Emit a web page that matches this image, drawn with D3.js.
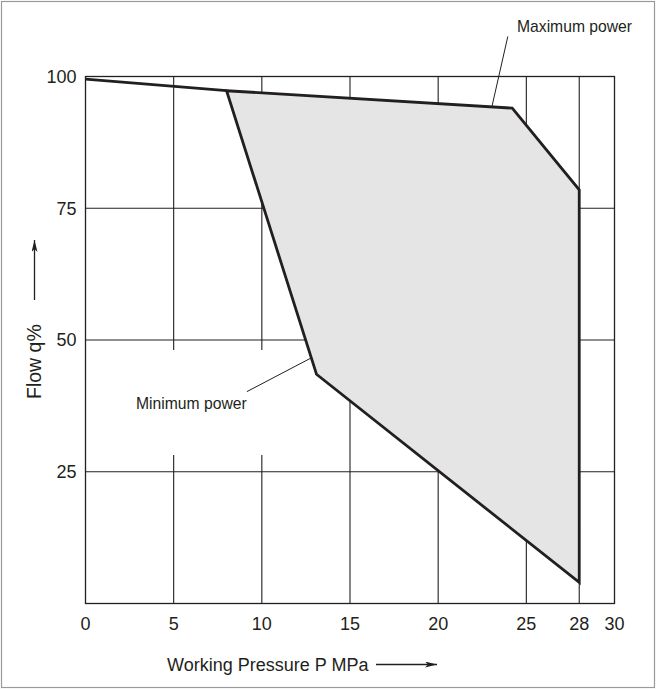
<!DOCTYPE html>
<html>
<head>
<meta charset="utf-8">
<script src="https://cdn.jsdelivr.net/npm/d3@7"></script>
<style>
  body { margin: 0; background: #fff; }
  svg text { font-family: "Liberation Sans", Arial, sans-serif; fill: #231f20; }
</style>
</head>
<body>
<svg id="chart" width="657" height="690"></svg>
<script>
// pressure (MPa) ticks and flow (%) ticks
const pressureTicks = [0, 5, 10, 15, 20, 25, 28, 30];
const flowTicks = [25, 50, 75, 100];

// maximum power boundary (outer curve)
const maxPowerP = [0, 8, 24.2, 28];
const maxPowerQ = [99.5, 97.3, 94, 78.5];
// pressure cut-off at 28 MPa
const cutoffP = [28, 28];
const cutoffQ = [78.5, 4];
// minimum power boundary
const minPowerP = [28, 13.1, 8];
const minPowerQ = [4, 43.5, 97.3];

// grid lines that are interrupted around the "Minimum power" label
const gappedTicks = [5, 10];
const gapQ = [28.2, 48.1];

const ink = '#231f20';
const svg = d3.select('#chart');

const x = d3.scaleLinear().domain([0, 30]).range([85.5, 614.5]);
const y = d3.scaleLinear().domain([0, 100]).range([603.5, 76.5]);

// outer frame
svg.append('rect')
    .attr('x', 1.5).attr('y', 1.5)
    .attr('width', 653).attr('height', 686)
    .attr('fill', 'none')
    .attr('stroke', '#9a9a9a')
    .attr('stroke-width', 1.2);

const grid = svg.append('g').attr('class', 'grid')
    .attr('stroke', ink).attr('stroke-width', 1.1);

// vertical grid
pressureTicks.filter(p => p > 0 && p < 30).forEach(p => {
  const segs = gappedTicks.includes(p)
    ? [[0, gapQ[0]], [gapQ[1], 100]]
    : [[0, 100]];
  segs.forEach(s => {
    grid.append('line')
        .attr('x1', x(p)).attr('x2', x(p))
        .attr('y1', y(s[0])).attr('y2', y(s[1]));
  });
});

// horizontal grid
flowTicks.filter(q => q < 100).forEach(q => {
  grid.append('line')
      .attr('x1', x(0)).attr('x2', x(30))
      .attr('y1', y(q)).attr('y2', y(q));
});

// operating region
const regionPts = [];
maxPowerP.slice(1).forEach((p, i) => regionPts.push([p, maxPowerQ[i + 1]]));
cutoffP.slice(1).forEach((p, i) => regionPts.push([p, cutoffQ[i + 1]]));
minPowerP.slice(1).forEach((p, i) => regionPts.push([p, minPowerQ[i + 1]]));

const line = d3.line().x(d => x(d[0])).y(d => y(d[1]));

svg.append('path')
    .attr('d', line(regionPts) + 'Z')
    .attr('fill', '#e5e5e5')
    .attr('stroke', ink)
    .attr('stroke-width', 2.8)
    .attr('stroke-linejoin', 'miter');

// leading part of the maximum power line
svg.append('path')
    .attr('d', line(maxPowerP.slice(0, 2).map((p, i) => [p, maxPowerQ[i]])))
    .attr('fill', 'none')
    .attr('stroke', ink)
    .attr('stroke-width', 2.8);

// plot frame
svg.append('rect')
    .attr('x', x(0)).attr('y', y(100))
    .attr('width', x(30) - x(0)).attr('height', y(0) - y(100))
    .attr('fill', 'none')
    .attr('stroke', ink)
    .attr('stroke-width', 1.3);

// tick labels
svg.append('g').selectAll('text')
  .data(pressureTicks)
  .join('text')
    .attr('x', d => x(d))
    .attr('y', 630)
    .attr('text-anchor', 'middle')
    .attr('font-size', 18)
    .text(d => d);

svg.append('g').selectAll('text')
  .data(flowTicks)
  .join('text')
    .attr('x', 76.5)
    .attr('y', d => y(d))
    .attr('dy', '0.36em')
    .attr('text-anchor', 'end')
    .attr('font-size', 18)
    .text(d => d);

// axis titles with arrows
const defs = svg.append('defs');
defs.append('marker')
    .attr('id', 'arrow')
    .attr('viewBox', '0 0 12 6')
    .attr('refX', 12).attr('refY', 3)
    .attr('markerWidth', 12).attr('markerHeight', 6)
    .attr('markerUnits', 'userSpaceOnUse')
    .attr('orient', 'auto')
  .append('path')
    .attr('d', 'M0,0 L12,3 L0,6 L3,3 Z')
    .attr('fill', ink);

svg.append('text')
    .attr('x', 167)
    .attr('y', 671)
    .attr('font-size', 18)
    .text('Working Pressure P MPa');
svg.append('line')
    .attr('x1', 376).attr('x2', 437)
    .attr('y1', 664.5).attr('y2', 664.5)
    .attr('stroke', ink).attr('stroke-width', 1.3)
    .attr('marker-end', 'url(#arrow)');

svg.append('text')
    .attr('transform', 'translate(41,399) rotate(-90)')
    .attr('font-size', 19.5)
    .text('Flow q%');
svg.append('line')
    .attr('x1', 34.5).attr('x2', 34.5)
    .attr('y1', 300).attr('y2', 240)
    .attr('stroke', ink).attr('stroke-width', 1.3)
    .attr('marker-end', 'url(#arrow)');

// annotations
const notes = [
  {text: 'Maximum power', tx: 517, ty: 32, from: [23.95, 107.6], to: [23.05, 94.3]},
  {text: 'Minimum power', tx: 136, ty: 409, from: [9.15, 40.2], to: [12.8, 46.6]}
];
notes.forEach(n => {
  svg.append('text')
      .attr('x', n.tx).attr('y', n.ty)
      .attr('font-size', 15.7)
      .text(n.text);
  svg.append('line')
      .attr('x1', x(n.from[0])).attr('y1', y(n.from[1]))
      .attr('x2', x(n.to[0])).attr('y2', y(n.to[1]))
      .attr('stroke', ink).attr('stroke-width', 1);
});
</script>
</body>
</html>
